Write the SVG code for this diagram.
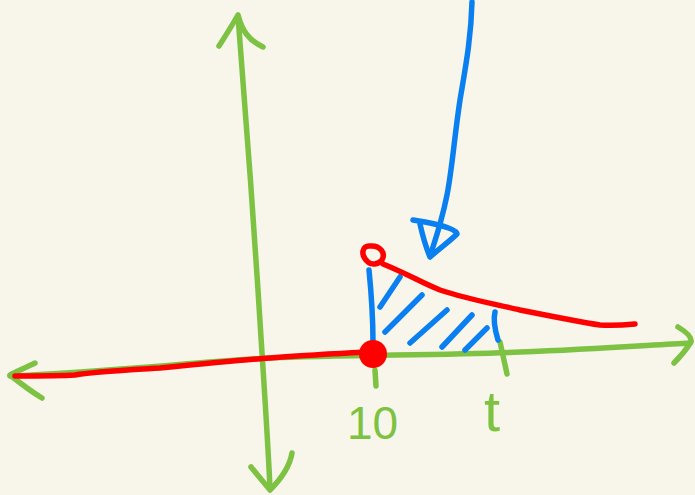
<svg xmlns="http://www.w3.org/2000/svg" width="695" height="495" viewBox="0 0 695 495">
<style>
.g{fill:none;stroke:#7dc243;stroke-width:5.5;stroke-linecap:round;stroke-linejoin:round}
.b{fill:none;stroke:#0a7fef;stroke-width:5.5;stroke-linecap:round;stroke-linejoin:round}
.r{fill:none;stroke:#ff0000;stroke-width:5.5;stroke-linecap:round;stroke-linejoin:round}
.lbl{fill:#7dc243;font-family:"Liberation Sans",Arial,sans-serif}
</style>
<rect width="695" height="495" fill="#f8f6eb"/>
<g id="axes">
<path class="g" d="M238,16 C245,100 252,200 258,290 C263,370 268,440 270,489"/>
<path class="g" d="M219,46 C228,32 234,22 238,15 C242,30 248,40 263,47"/>
<path class="g" d="M251,467 C260,478 266,485 270,490 C282,478 290,465 292,453"/>
<path class="g" d="M10,376 C100,372 200,362 270,358 C340,355 450,355 520,352 C600,349 650,345 690,343"/>
<path class="g" d="M35,363 C25,368 15,372 10,375 C20,383 32,392 42,398"/>
<path class="g" d="M678,327 C688,333 692,338 691,342 C686,350 680,357 674,363"/>
<path class="g" d="M375,370 L376,386"/>
<path class="g" d="M500,342 L507,374"/>
</g>
<g id="labels">
<text class="lbl" x="347" y="439" font-size="46">10</text>
<text class="lbl" x="484" y="431" font-size="58">t</text>
</g>
<g id="region">
<path class="b" d="M369,270 C372,300 373,320 373,343"/>
<path class="b" d="M495,312 C493,320 495,330 498,340"/>
<path class="b" d="M400,277 L380,307"/>
<path class="b" d="M422,295 L385,332"/>
<path class="b" d="M447,310 L410,343"/>
<path class="b" d="M472,315 L442,347"/>
<path class="b" d="M487,328 L465,350"/>
</g>
<g id="curve">
<path class="r" d="M15,376 C40,376 60,376 75,375 C90,372 110,371 160,368 C210,363 240,360 270,358 C310,355 340,353 373,352"/>
<circle cx="373" cy="354" r="14" fill="#ff0000"/>
<path class="r" d="M368,262 C360,255 362,245 370,246 C380,245 386,253 382,260 C378,265 371,265 368,262 Z"/>
<path class="r" d="M383,264 C410,275 420,282 440,290 C470,300 500,305 520,310 C560,318 580,322 600,325 C615,326 625,325 635,324"/>
</g>
<g id="pointer">
<path class="b" d="M472,2 C471,40 465,70 460,100 C454,140 452,170 447,195 C443,215 438,232 432,250"/>
<path class="b" d="M413,220 L425,222 C445,226 457,230 457,234 C450,241 440,248 430,257 C425,245 422,233 420,224"/>
</g>
</svg>
